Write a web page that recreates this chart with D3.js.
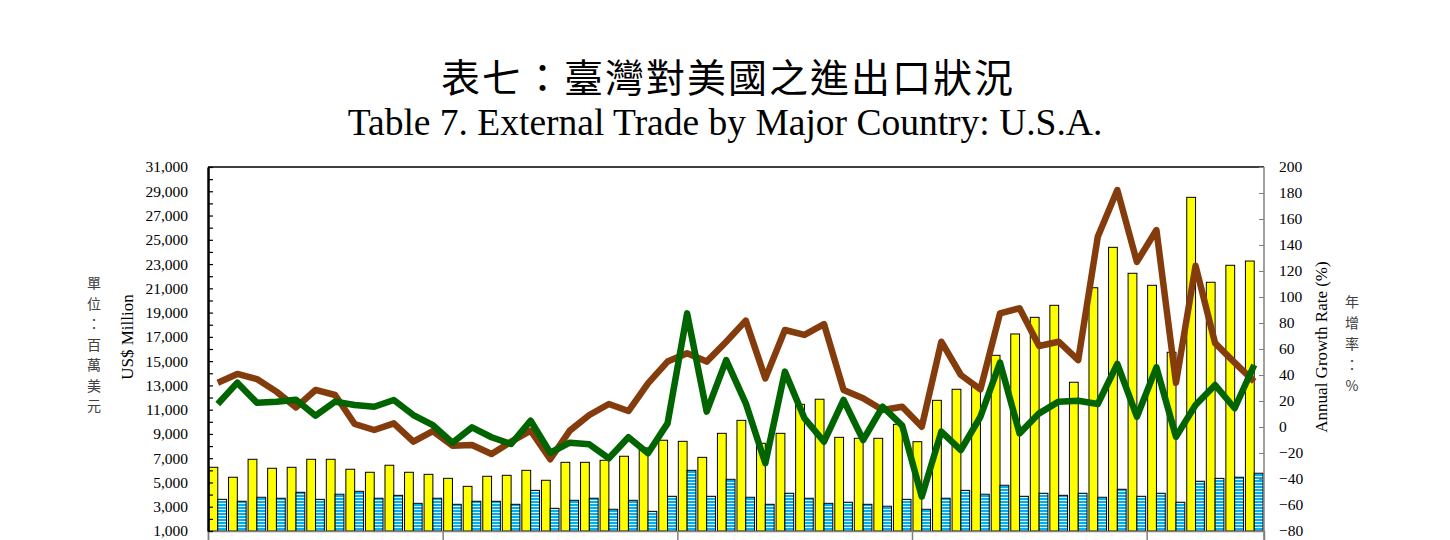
<!DOCTYPE html>
<html>
<head>
<meta charset="utf-8">
<script src="https://cdn.jsdelivr.net/npm/d3@7"></script>
<style>
  body { margin: 0; background: #fff; }
  svg { display: block; }
  .serif { font-family: "Liberation Serif", "Times New Roman", serif; }
  .cjk { font-family: "Noto Sans CJK TC", "Noto Sans CJK SC", sans-serif; }
</style>
</head>
<body>
<svg id="chart" width="1450" height="540"></svg>
<script>
  // monthly values, 54 months (ticks every 12)
  const months = d3.range(54);

  // exports to U.S.A. (US$ million)
  const exportsUS = [
    6250, 5430, 6910, 6170, 6250, 6910, 6910, 6090, 5840, 6420, 5840, 5670,
    5340, 4680, 5510, 5590, 6000, 5180, 6660, 6660, 6830, 7160, 7850, 8480,
    8390, 7070, 9050, 10120, 8230, 9050, 11440, 11860, 8720, 8640, 8640, 9790,
    8360, 11770, 12680, 13000, 15480, 17240, 18610, 19600, 13260, 21050, 24380, 22240,
    21250, 15730, 28500, 21500, 22900, 23250,
  ];
  // imports from U.S.A. (US$ million)
  const importsUS = [
    3610, 3450, 3780, 3700, 4190, 3610, 4030, 4270, 3700, 3940, 3280, 3700,
    3200, 3450, 3450, 3200, 4350, 2870, 3530, 3700, 2790, 3530, 2620, 3860,
    6000, 3860, 5260, 3780, 3200, 4110, 3700, 3280, 3370, 3200, 3040, 3610,
    2790, 3700, 4350, 4030, 4770, 3860, 4110, 3940, 4110, 3780, 4440, 3860,
    4110, 3370, 5100, 5340, 5430, 5760,
  ];
  // annual growth rate (%)
  const exportsGrowth = [
    34.1, 40.8, 36.9, 27.2, 15.1, 28.5, 24.6, 2.3, -2.3, 2.8, -11.3, -3.1,
    -14.4, -13.8, -20.8, -11.3, -2.8, -24.8, -2.8, 9.2, 17.7, 12.3, 33.6, 50.3,
    56.7, 50.3, 65.6, 81.8, 37.4, 74.6, 70.8, 79.2, 28.5, 22.1, 13.1, 15.6,
    0.2, 65.6, 40, 29, 87.4, 91.3, 62.3, 65.6, 51.5, 146.4, 182.3, 127,
    151.5, 34, 124, 64.5, 49.5, 35,
  ];
  const importsGrowth = [
    17.7, 34.1, 18.7, 19.5, 21, 8.7, 19.5, 16.9, 15.6, 20.8, 9.2, 1.5,
    -12.1, -0.3, -7.9, -13.1, 4.9, -19.8, -12.1, -13.3, -24.1, -7.9, -20.2, 2.8,
    87.4, 11.8, 51.5, 18.2, -27.9, 42.6, 6.7, -11.3, 20.8, -10, 15.6, 1,
    -53.6, -3.6, -17.7, 7.9, 49.5, -4.9, 10.5, 19.5, 20.2, 17.7, 48.5, 7.9,
    45.9, -7.5, 16.9, 32.3, 14.4, 47.7,
  ];

  const leftTicks = d3.range(1000, 31001, 2000);
  const rightTicks = d3.range(-80, 201, 20);
  const unitL = ["單", "位", "：", "百", "萬", "美", "元"];
  const unitR = ["年", "增", "率", "：", "%"];

  const plot = { left: 208, right: 1264, top: 167, bottom: 531 };
  const serif = '"Liberation Serif", "Times New Roman", serif';

  const svg = d3.select("#chart");

  const x0 = d3
    .scaleBand()
    .domain(months)
    .range([plot.left, plot.right])
    .paddingInner(0.1)
    .paddingOuter(0.05);
  const x1 = d3
    .scaleBand()
    .domain(["exp", "imp"])
    .range([0, x0.bandwidth()]);
  const yL = d3.scaleLinear().domain([1000, 31000]).range([plot.bottom, plot.top]);
  const yR = d3.scaleLinear().domain([-80, 200]).range([plot.bottom, plot.top]);

  // striped fill for the import bars
  const defs = svg.append("defs");
  const pat = defs
    .append("pattern")
    .attr("id", "stripe")
    .attr("patternUnits", "userSpaceOnUse")
    .attr("width", 6)
    .attr("height", 3);
  pat.append("rect").attr("width", 6).attr("height", 3).attr("fill", "#00b0f0");
  pat.append("rect").attr("y", 2).attr("width", 6).attr("height", 1).attr("fill", "#e6f7fd");

  // titles
  svg
    .append("text")
    .attr("class", "cjk")
    .attr("x", 728)
    .attr("y", 92)
    .attr("text-anchor", "middle")
    .attr("font-size", 39)
    .attr("letter-spacing", 2)
    .text("表七：臺灣對美國之進出口狀況");
  svg
    .append("text")
    .attr("class", "serif")
    .attr("x", 725)
    .attr("y", 135)
    .attr("text-anchor", "middle")
    .attr("font-size", 37.5)
    .text("Table 7. External Trade by Major Country: U.S.A.");

  // bars
  const groups = svg
    .append("g")
    .selectAll("g")
    .data(months)
    .join("g")
    .attr("transform", (d) => `translate(${x0(d)},0)`);

  groups
    .append("rect")
    .attr("x", x1("exp"))
    .attr("y", (d) => yL(exportsUS[d]))
    .attr("width", x1.bandwidth())
    .attr("height", (d) => yL(1000) - yL(exportsUS[d]))
    .attr("fill", "#ffff00")
    .attr("stroke", "#000")
    .attr("stroke-width", 1);

  groups
    .append("rect")
    .attr("x", x1("imp"))
    .attr("y", (d) => yL(importsUS[d]))
    .attr("width", x1.bandwidth())
    .attr("height", (d) => yL(1000) - yL(importsUS[d]))
    .attr("fill", "url(#stripe)")
    .attr("stroke", "#000")
    .attr("stroke-width", 1);

  // growth lines
  const line = d3
    .line()
    .x((d) => x0(d[0]) + x0.bandwidth() / 2)
    .y((d) => yR(d[1]));

  svg
    .append("path")
    .datum(d3.zip(months, exportsGrowth))
    .attr("fill", "none")
    .attr("stroke", "#843c0c")
    .attr("stroke-width", 6.5)
    .attr("stroke-linejoin", "round")
    .attr("d", line);

  svg
    .append("path")
    .datum(d3.zip(months, importsGrowth))
    .attr("fill", "none")
    .attr("stroke", "#006400")
    .attr("stroke-width", 6.5)
    .attr("stroke-linejoin", "round")
    .attr("d", line);

  // top border
  svg
    .append("line")
    .attr("x1", plot.left)
    .attr("x2", plot.right)
    .attr("y1", plot.top)
    .attr("y2", plot.top)
    .attr("stroke", "#000")
    .attr("stroke-width", 1.5);

  // bottom axis with year ticks
  const xAxis = svg
    .append("g")
    .attr("transform", `translate(0,${plot.bottom})`)
    .call(
      d3
        .axisBottom(d3.scaleLinear().domain([0, 54]).range([plot.left, plot.right]))
        .tickValues([0, 12, 24, 36, 48])
        .tickSize(12)
        .tickFormat(""),
    );
  xAxis.selectAll("line, path").attr("stroke", "#808080").attr("stroke-width", 1.5);

  // right axis
  const rAxis = svg
    .append("g")
    .attr("transform", `translate(${plot.right},0)`)
    .call(d3.axisRight(yR).tickValues(rightTicks).tickSize(-5).tickPadding(15).tickSizeOuter(0));
  rAxis.attr("font-family", serif);
  rAxis.select(".domain").attr("stroke", "#808080").attr("stroke-width", 1.5);
  rAxis.selectAll(".tick line").attr("stroke", "#808080");
  rAxis.selectAll("text").attr("font-size", 15.5).attr("fill", "#000");
  rAxis.select(".domain").attr("d", `M0,${plot.top}V${plot.bottom + 12}`);

  // left axis
  const lAxis = svg
    .append("g")
    .attr("transform", `translate(${plot.left},0)`)
    .call(
      d3
        .axisLeft(yL)
        .tickValues(d3.range(1000, 31001, 1000))
        .tickSize(-5)
        .tickPadding(20)
        .tickSizeOuter(0)
        .tickFormat((d) => (leftTicks.includes(d) ? d3.format(",")(d) : "")),
    );
  lAxis.attr("font-family", serif);
  lAxis.select(".domain").attr("stroke", "#000").attr("stroke-width", 2.5);
  lAxis.selectAll(".tick line").attr("stroke", "#000").attr("stroke-width", 1.2);
  lAxis.selectAll("text").attr("font-size", 15.5).attr("fill", "#000");

  // axis titles
  svg
    .append("text")
    .attr("class", "serif")
    .attr("transform", "translate(133,337) rotate(-90)")
    .attr("text-anchor", "middle")
    .attr("font-size", 17)
    .text("US$ Million");
  svg
    .append("text")
    .attr("class", "serif")
    .attr("transform", "translate(1327,347) rotate(-90)")
    .attr("text-anchor", "middle")
    .attr("font-size", 17)
    .text("Annual Growth Rate (%)");

  // vertical chinese unit labels
  svg
    .append("g")
    .selectAll("text")
    .data(unitL)
    .join("text")
    .attr("class", "cjk")
    .attr("x", 94)
    .attr("y", (d, i) => 288 + i * 20.5)
    .attr("text-anchor", "middle")
    .attr("font-size", 14)
    .attr("fill", "#404040")
    .text((d) => d);

  svg
    .append("g")
    .selectAll("text")
    .data(unitR)
    .join("text")
    .attr("class", "cjk")
    .attr("x", 1352)
    .attr("y", (d, i) => 307 + i * 21)
    .attr("text-anchor", "middle")
    .attr("font-size", 14)
    .attr("fill", "#404040")
    .text((d) => d);
</script>
</body>
</html>
